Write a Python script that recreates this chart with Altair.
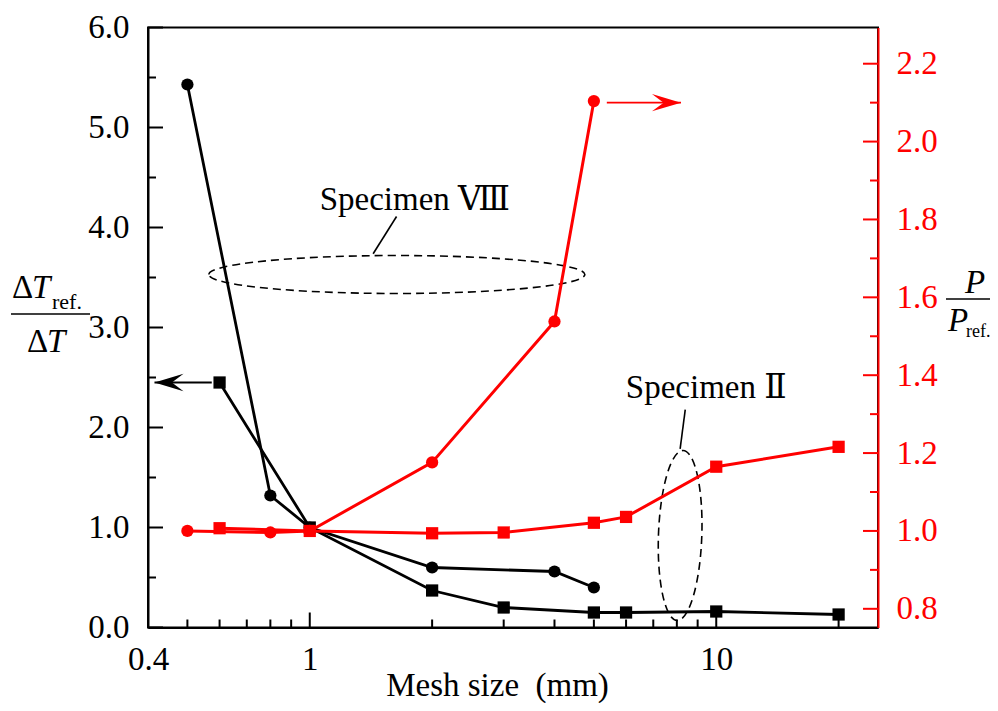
import altair as alt
import pandas as pd

# ---------------- data ----------------
# Specimen VIII (circles)
mesh_viii = [0.5, 0.8, 1, 2, 4, 5]
dT_viii = [5.43, 1.32, 1.00, 0.60, 0.56, 0.40]
P_viii = [1.000, 0.996, 1.000, 1.176, 1.538, 2.104]

# Specimen II (squares)
mesh_ii = [0.6, 1, 2, 3, 5, 6, 10, 20]
dT_ii = [2.45, 1.00, 0.37, 0.20, 0.15, 0.15, 0.16, 0.13]
P_ii = [1.007, 1.000, 0.994, 0.996, 1.021, 1.036, 1.165, 1.216]

# axis ticks / labels
x_labels = [0.4, 1, 10]
x_major = [1, 10]
x_minor = [0.5, 0.6, 0.7, 0.8, 0.9, 2, 3, 4, 5, 6, 7, 8, 9, 20]
left_major = [0, 1, 2, 3, 4, 5, 6]
left_minor = [0.5, 1.5, 2.5, 3.5, 4.5, 5.5]
right_major = [0.8, 1.0, 1.2, 1.4, 1.6, 1.8, 2.0, 2.2]
right_minor = [0.9, 1.1, 1.3, 1.5, 1.7, 1.9, 2.1]

# annotation anchors (data coordinates)
spec_text = ["Specimen Ⅷ", "Specimen\u00a0Ⅱ"]
spec_text_mesh = [1.814, 9.45]
spec_text_dT = [4.18, 2.30]
ell_viii_mesh, ell_viii_dT = [1.638], [3.53]
ell_ii_mesh, ell_ii_dT = [8.15], [0.92]
lead_mesh = [1.432, 8.39]
lead_dT = [3.737, 2.178]
lead_mesh2 = [1.635, 8.15]
lead_dT2 = [4.11, 1.787]
arrow_l_from, arrow_l_to, arrow_l_dT = [0.574], [0.415], [2.45]
arrow_r_from, arrow_r_to, arrow_r_P = [5.38], [8.19], [2.10]

# ---------------- style ----------------
FONT = "Liberation Serif"
SPEC_FONT = "Liberation Serif, DejaVu Serif"
RED = "#ff0000"
W, H = 730, 600
LBL = 33

X = alt.Scale(type="log", domain=[0.4, 25], nice=False)
YL = alt.Scale(domain=[0, 6], nice=False, zero=False)
YR = alt.Scale(domain=[0.752, 2.293], nice=False, zero=False)

x_axis = alt.Axis(values=x_labels, format="~g", ticks=False, grid=False,
                  title="Mesh size\u00a0 (mm)", labelPadding=16, titlePadding=-7,
                  titleX=349, labelFlush=False, domainColor="black", domainWidth=2,
                  labelFontSize=LBL, titleFontSize=33, labelFont=FONT, titleFont=FONT,
                  titleFontWeight="normal", labelColor="black", titleColor="black")
yl_axis = alt.Axis(values=left_major, format=".1f", ticks=False, grid=False, title=None,
                   labelPadding=19, domainColor="black", domainWidth=2,
                   labelFontSize=LBL, labelFont=FONT, labelColor="black")
yr_axis = alt.Axis(orient="right", values=right_major, format=".1f", ticks=False, grid=False,
                   title=None, labelPadding=18, labelColor=RED, domainColor=RED,
                   domainWidth=2, labelFontSize=LBL, labelFont=FONT)

viii = pd.DataFrame({"mesh": mesh_viii, "dT": dT_viii, "P": P_viii})
ii = pd.DataFrame({"mesh": mesh_ii, "dT": dT_ii, "P": P_ii})


def xq(field="mesh"):
    return alt.X(f"{field}:Q", scale=X, axis=x_axis)


def yl(field="dT"):
    return alt.Y(f"{field}:Q", scale=YL, axis=yl_axis)


def yr(field="P"):
    return alt.Y(f"{field}:Q", scale=YR, axis=yr_axis)


def txt(text, x, y, size=33, italic=False, color="black", align="left"):
    return alt.Chart(alt.Data(values=[{"t": text}])).mark_text(
        font=FONT, fontSize=size, fontStyle="italic" if italic else "normal",
        align=align, baseline="alphabetic", color=color
    ).encode(text="t:N", x=alt.value(x), y=alt.value(y))


def bar(x1, x2, y, color="black"):
    return alt.Chart(alt.Data(values=[{}])).mark_rule(color=color, strokeWidth=1.5).encode(
        x=alt.value(x1), x2=alt.value(x2), y=alt.value(y))


# ---------------- black (left axis) group ----------------
black_line_viii = alt.Chart(viii).mark_line(color="black", strokeWidth=2.8).encode(x=xq(), y=yl())
black_pts_viii = alt.Chart(viii).mark_point(shape="circle", filled=True, size=150,
                                            color="black", opacity=1).encode(x=xq(), y=yl())
black_line_ii = alt.Chart(ii).mark_line(color="black", strokeWidth=2.8).encode(x=xq(), y=yl())
black_pts_ii = alt.Chart(ii).mark_point(shape="square", filled=True, size=150,
                                        color="black", opacity=1).encode(x=xq(), y=yl())

lt_major = alt.Chart(pd.DataFrame({"v": left_major})).mark_rule(color="black", strokeWidth=2).encode(
    y=yl("v"), x=alt.value(0), x2=alt.value(15))
lt_minor = alt.Chart(pd.DataFrame({"v": left_minor})).mark_rule(color="black", strokeWidth=2).encode(
    y=yl("v"), x=alt.value(0), x2=alt.value(8))
xt_major = alt.Chart(pd.DataFrame({"m": x_major})).mark_rule(color="black", strokeWidth=2).encode(
    x=xq("m"), y=alt.value(H), y2=alt.value(H - 15))
xt_minor = alt.Chart(pd.DataFrame({"m": x_minor})).mark_rule(color="black", strokeWidth=2).encode(
    x=xq("m"), y=alt.value(H), y2=alt.value(H - 8))

ELL_VIII = "M -1 0 A 1 0.101 0 1 1 1 0 A 1 0.101 0 1 1 -1 0 Z"
ELL_II = "M 0 -1 A 0.255 1 0 1 1 0 1 A 0.255 1 0 1 1 0 -1 Z"
ell_viii = alt.Chart(pd.DataFrame({"mesh": ell_viii_mesh, "dT": ell_viii_dT})).mark_point(
    shape=ELL_VIII, size=376 ** 2, filled=False, color="black", strokeWidth=1.6,
    strokeDash=[8, 5], opacity=1).encode(x=xq(), y=yl())
ell_ii = alt.Chart(pd.DataFrame({"mesh": ell_ii_mesh, "dT": ell_ii_dT})).mark_point(
    shape=ELL_II, size=170 ** 2, filled=False, color="black", strokeWidth=1.6,
    strokeDash=[8, 5], opacity=1, angle=2).encode(x=xq(), y=yl())

leaders = alt.Chart(pd.DataFrame({"mesh": lead_mesh, "dT": lead_dT,
                                  "mesh2": lead_mesh2, "dT2": lead_dT2})).mark_rule(
    color="black", strokeWidth=1.6).encode(x=xq(), y=yl(), x2="mesh2:Q", y2="dT2:Q")

spec_labels = alt.Chart(pd.DataFrame({"mesh": spec_text_mesh, "dT": spec_text_dT,
                                      "t": spec_text})).mark_text(
    font=SPEC_FONT, fontSize=33, align="center", baseline="alphabetic", color="black").encode(
    x=xq(), y=yl(), text="t:N")

HEAD_L = "M 0 0 L 1 -0.3 L 0.6 0 L 1 0.3 Z"
HEAD_R = "M 0 0 L -1 -0.3 L -0.6 0 L -1 0.3 Z"
arrow_l = pd.DataFrame({"mesh": arrow_l_from, "mesh2": arrow_l_to, "dT": arrow_l_dT})
arrow_l_shaft = alt.Chart(arrow_l).mark_rule(color="black", strokeWidth=1.8).encode(
    x=xq(), x2="mesh2:Q", y=yl())
arrow_l_head = alt.Chart(arrow_l).mark_point(shape=HEAD_L, size=58 ** 2, filled=True,
                                             color="black", opacity=1).encode(
    x=xq("mesh2"), y=yl())

left_title = [
    txt("Δ", -136, 270.5), txt("T", -116, 270.5, italic=True),
    txt("ref.", -96, 281.5, size=22),
    bar(-137, -58, 286.5),
    txt("Δ", -121, 324.5), txt("T", -101, 324.5, italic=True),
]

left_group = alt.layer(
    black_line_viii, black_line_ii, black_pts_viii, black_pts_ii,
    lt_major, lt_minor, xt_major, xt_minor,
    ell_viii, ell_ii, leaders, spec_labels, arrow_l_shaft, arrow_l_head,
    *left_title,
)

# ---------------- red (right axis) group ----------------
red_line_viii = alt.Chart(viii).mark_line(color=RED, strokeWidth=3).encode(x=xq(), y=yr())
red_pts_viii = alt.Chart(viii).mark_point(shape="circle", filled=True, size=150,
                                          color=RED, opacity=1).encode(x=xq(), y=yr())
red_line_ii = alt.Chart(ii).mark_line(color=RED, strokeWidth=3).encode(x=xq(), y=yr())
red_pts_ii = alt.Chart(ii).mark_point(shape="square", filled=True, size=150,
                                      color=RED, opacity=1).encode(x=xq(), y=yr())

rt_major = alt.Chart(pd.DataFrame({"v": right_major})).mark_rule(color=RED, strokeWidth=2).encode(
    y=yr("v"), x=alt.value(W - 15), x2=alt.value(W))
rt_minor = alt.Chart(pd.DataFrame({"v": right_minor})).mark_rule(color=RED, strokeWidth=2).encode(
    y=yr("v"), x=alt.value(W - 8), x2=alt.value(W))

arrow_r = pd.DataFrame({"mesh": arrow_r_from, "mesh2": arrow_r_to, "P": arrow_r_P})
arrow_r_shaft = alt.Chart(arrow_r).mark_rule(color=RED, strokeWidth=1.8).encode(
    x=xq(), x2="mesh2:Q", y=yr())
arrow_r_head = alt.Chart(arrow_r).mark_point(shape=HEAD_R, size=58 ** 2, filled=True,
                                             color=RED, opacity=1).encode(
    x=xq("mesh2"), y=yr())

right_title = [
    txt("P", 827, 265.5, italic=True, align="center"),
    bar(798, 842, 271.5),
    txt("P", 800, 303, italic=True),
    txt("ref.", 818, 309, size=18),
]

right_group = alt.layer(
    red_line_viii, red_line_ii, red_pts_viii, red_pts_ii,
    rt_major, rt_minor,
    arrow_r_shaft, arrow_r_head,
    *right_title,
)

chart = alt.layer(left_group, right_group).resolve_scale(y="independent").properties(
    width=W, height=H,
    autosize=alt.AutoSizeParams(type="none"),
    padding={"left": 140, "top": 19.5, "right": 112, "bottom": 75},
).configure_view(stroke="black", strokeWidth=2)

chart.save("out.html", embed_options={"renderer": "svg", "actions": False})
